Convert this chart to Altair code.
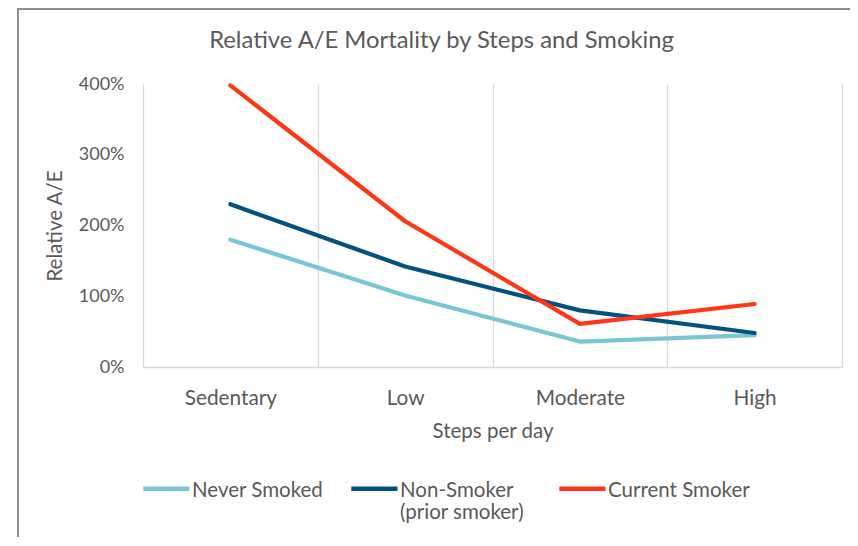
import altair as alt
import pandas as pd

categories = ["Sedentary", "Low", "Moderate", "High"]
series_names = ["Never Smoked", "Non-Smoker (prior smoker)", "Current Smoker"]
never_smoked = [180, 101, 36, 45]
non_smoker = [230, 142, 80, 48]
current_smoker = [398, 206, 61, 89]
y_ticks = [0, 100, 200, 300, 400]
colors = ["#78C6D5", "#04507F", "#FF3616"]

rows = []
for name, vals in zip(series_names, [never_smoked, non_smoker, current_smoker]):
    for c, v in zip(categories, vals):
        rows.append({"Steps": c, "Series": name, "Value": v})
df = pd.DataFrame(rows)

FONT = "Lato"
GRAY = "#595959"

label_expr = ("datum.label == 'Non-Smoker (prior smoker)' ? ['Non-Smoker', '(prior smoker)'] "
              ": [datum.label, '']")

lines = alt.Chart(df).mark_line(strokeWidth=4.2, strokeCap="round", strokeJoin="round").encode(
    x=alt.X("Steps:N", sort=categories, bandPosition=0.5,
            scale=alt.Scale(type="band", paddingInner=0, paddingOuter=0),
            axis=alt.Axis(title="Steps per day", tickBand="extent", grid=True, gridColor="#d9d9d9",
                          gridWidth=1.3, ticks=False, tickSize=0, domainColor="#d9d9d9", domainWidth=1.5,
                          labelAngle=0, labelPadding=21, labelFontSize=20.8, labelColor=GRAY,
                          labelFont=FONT, titleFont=FONT, titleFontSize=20.5, titleColor=GRAY,
                          titleFontWeight="normal", titlePadding=14)),
    y=alt.Y("Value:Q", scale=alt.Scale(domain=[0, 400]),
            axis=alt.Axis(title="Relative A/E", values=y_ticks, labelExpr="datum.value + '%'",
                          grid=False, domain=False, ticks=False, tickSize=0, labelPadding=19,
                          labelFontSize=18, labelColor=GRAY, labelFont=FONT, titleFont=FONT,
                          titleFontSize=20.5, titleColor=GRAY, titleFontWeight="normal", titlePadding=13)),
    color=alt.Color("Series:N", sort=series_names,
                    scale=alt.Scale(domain=series_names, range=colors),
                    legend=alt.Legend(title=None, orient="none", direction="horizontal",
                                      legendX=0, legendY=372, symbolType="M-1.1,0.36H1",
                                      symbolStrokeWidth=4.5, symbolSize=1936, labelFont=FONT,
                                      labelFontSize=20.5, labelColor=GRAY, columnPadding=8,
                                      gridAlign="all", labelOffset=0, padding=0, labelLimit=300,
                                      labelBaseline="top", labelExpr=label_expr)),
)

frame_df = pd.DataFrame({"k": [0]})
left_line = alt.Chart(frame_df).mark_rule(color="#8c8c8c", strokeWidth=2).encode(
    x=alt.value(-125), y=alt.value(-75), y2=alt.value(470))
top_line = alt.Chart(frame_df).mark_rule(color="#8c8c8c", strokeWidth=2).encode(
    x=alt.value(-126), x2=alt.value(707), y=alt.value(-75))

chart = alt.layer(left_line, top_line, lines).properties(
    width=699, height=283,
    autosize=alt.AutoSizeParams(type="none"),
    padding={"left": 135, "top": 76, "right": 8, "bottom": 170},
    title=alt.Title("Relative A/E Mortality by Steps and Smoking", font=FONT, fontSize=23.8,
                    fontWeight="normal", color=GRAY, anchor="middle", frame="bounds",
                    baseline="middle", offset=0, dy=57, dx=8),
).configure_view(stroke=None)

chart.save("out.html", embed_options={"renderer": "svg", "actions": False})
